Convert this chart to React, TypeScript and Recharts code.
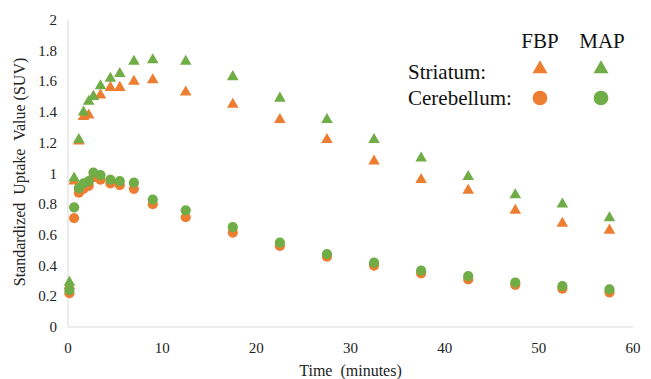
import React from 'react';
import { ScatterChart, Scatter, XAxis, YAxis, Symbols } from 'recharts';

const times = [0.15, 0.65, 1.15, 1.65, 2.2, 2.7, 3.45, 4.5, 5.5, 7, 9, 12.5, 17.5, 22.5, 27.5, 32.5, 37.5, 42.5, 47.5, 52.5, 57.5];
const fbpStriatum = [0.27, 0.95, 1.21, 1.37, 1.38, 1.5, 1.51, 1.56, 1.56, 1.6, 1.61, 1.53, 1.45, 1.35, 1.22, 1.08, 0.96, 0.89, 0.76, 0.675, 0.63];
const mapStriatum = [0.29, 0.97, 1.22, 1.4, 1.47, 1.5, 1.57, 1.62, 1.65, 1.73, 1.74, 1.73, 1.63, 1.49, 1.35, 1.22, 1.1, 0.98, 0.86, 0.8, 0.71];
const fbpCerebellum = [0.22, 0.71, 0.875, 0.9, 0.92, 0.975, 0.96, 0.935, 0.925, 0.9, 0.8, 0.715, 0.615, 0.528, 0.458, 0.4, 0.35, 0.31, 0.274, 0.25, 0.226];
const mapCerebellum = [0.24, 0.78, 0.905, 0.935, 0.95, 1.005, 0.99, 0.96, 0.95, 0.94, 0.83, 0.76, 0.65, 0.55, 0.475, 0.42, 0.367, 0.332, 0.29, 0.267, 0.245];

const xTicks = [0, 10, 20, 30, 40, 50, 60];
const yTicks = [0, 0.2, 0.4, 0.6, 0.8, 1, 1.2, 1.4, 1.6, 1.8, 2];

const ORANGE = '#ED7D31';
const GREEN = '#70AD47';
const FONT = '"Liberation Serif", "Times New Roman", serif';

const toPoints = (vals: number[]) => vals.map((v, i) => ({ x: times[i], y: v }));

const triShape = (color: string) => (p: any) => (
  <Symbols cx={p.cx} cy={p.cy} type="triangle" size={58} fill={color} />
);
const circShape = (color: string) => (p: any) => (
  <Symbols cx={p.cx} cy={p.cy} type="circle" size={82} fill={color} />
);

const XTick = (p: any) => (
  <text x={p.x} y={p.y} dy={11} textAnchor="middle" fontFamily={FONT} fontSize={15} fill="#222">
    {String(p.payload.value)}
  </text>
);
const YTick = (p: any) => (
  <text x={p.x} y={p.y} dy={5} textAnchor="end" fontFamily={FONT} fontSize={15} fill="#222">
    {String(p.payload.value)}
  </text>
);

const LegendBlock = () => (
  <g fontFamily={FONT} fontSize={21} fill="#111">
    <text x={540} y={48} textAnchor="middle">FBP</text>
    <text x={602} y={48} textAnchor="middle">MAP</text>
    <text x={408} y={79}>Striatum:</text>
    <text x={408} y={105}>Cerebellum:</text>
    <Symbols cx={540} cy={69} type="triangle" size={97} fill={ORANGE} />
    <Symbols cx={601} cy={69} type="triangle" size={97} fill={GREEN} />
    <Symbols cx={540} cy={98} type="circle" size={170} fill={ORANGE} />
    <Symbols cx={601} cy={98} type="circle" size={170} fill={GREEN} />
  </g>
);

export default function App() {
  return (
    <div style={{ position: 'absolute', left: 0, top: 0, fontFamily: FONT }}>
      <ScatterChart width={651} height={379} margin={{ top: 20, right: 18, bottom: 0, left: 0 }}>
        <XAxis
          type="number"
          dataKey="x"
          domain={[0, 60]}
          ticks={xTicks}
          interval={0}
          height={52}
          tickLine={false}
          tickMargin={9}
          axisLine={{ stroke: '#d9d9d9' }}
          tick={<XTick />}
          label={{ value: 'Time\u00a0 (minutes)', position: 'insideBottom', offset: 3, fontFamily: FONT, fontSize: 16, fill: '#222' }}
        />
        <YAxis
          type="number"
          dataKey="y"
          domain={[0, 2]}
          ticks={yTicks}
          interval={0}
          width={68}
          tickLine={false}
          tickMargin={5}
          axisLine={{ stroke: '#d9d9d9' }}
          tick={<YTick />}
          label={{
            content: () => (
              <text
                x={25}
                y={172}
                transform="rotate(-90, 25, 172)"
                textAnchor="middle"
                fontFamily={FONT}
                fontSize={16}
                fill="#222"
              >
                {'Standardized\u00a0 Uptake\u00a0 Value (SUV)'}
              </text>
            ),
          }}
        />
        <Scatter name="FBP Cerebellum" data={toPoints(fbpCerebellum)} shape={circShape(ORANGE)} isAnimationActive={false} />
        <Scatter name="FBP Striatum" data={toPoints(fbpStriatum)} shape={triShape(ORANGE)} isAnimationActive={false} />
        <Scatter name="MAP Cerebellum" data={toPoints(mapCerebellum)} shape={circShape(GREEN)} isAnimationActive={false} />
        <Scatter name="MAP Striatum" data={toPoints(mapStriatum)} shape={triShape(GREEN)} isAnimationActive={false} />
        <LegendBlock />
      </ScatterChart>
    </div>
  );
}
